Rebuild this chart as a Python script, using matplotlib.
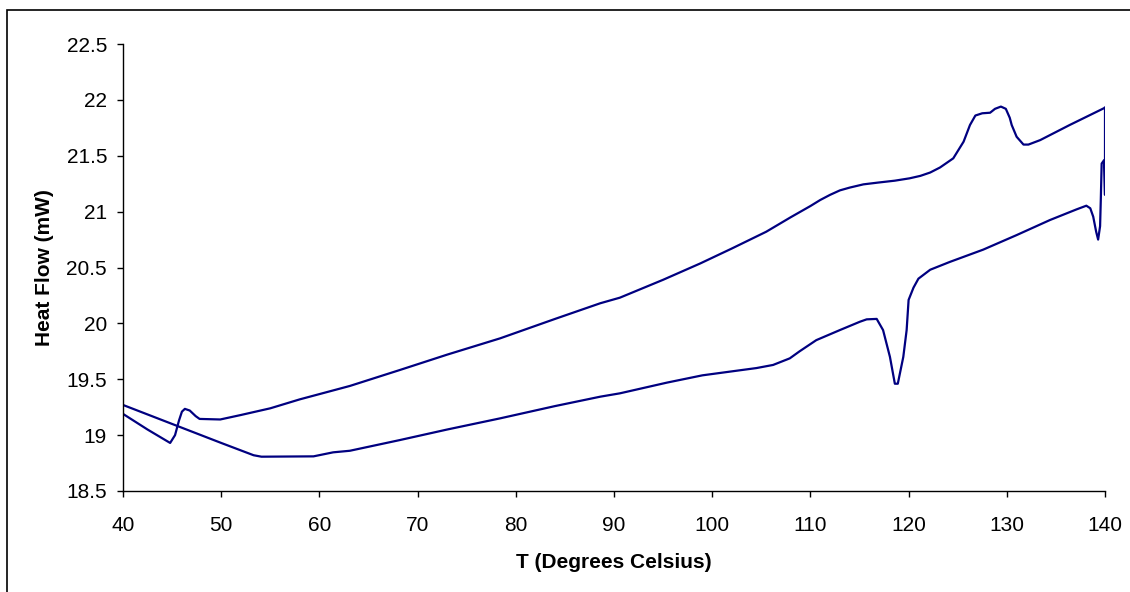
import matplotlib
matplotlib.use("Agg")
import matplotlib.pyplot as plt
from matplotlib.patches import Rectangle
from matplotlib.ticker import FuncFormatter, MultipleLocator

# heating run (T in deg C, heat flow in mW)
heat_T = [40.0, 42.5, 44.8, 45.3, 45.7, 46.0, 46.3, 46.8, 47.4, 47.8, 49.9, 52.0,
          55.0, 58.0, 63.1, 68.2, 73.0, 78.4, 84.0, 88.6, 90.6, 95.0, 98.8, 102.0,
          105.5, 108.0, 110.0, 111.0, 112.0, 113.0, 114.0, 115.4, 116.9, 118.6, 120.1, 121.2,
          122.2, 123.2, 124.55, 125.6, 126.25, 126.8, 127.5, 128.3, 128.8, 129.4,
          129.9, 130.3, 130.5, 131.0, 131.7, 132.2, 133.4, 136.4, 140.0]
heat_Q = [19.19, 19.05, 18.93, 19.0, 19.13, 19.21, 19.235, 19.22, 19.17, 19.145, 19.14, 19.18,
          19.24, 19.32, 19.44, 19.583, 19.72, 19.866, 20.04, 20.18, 20.23, 20.39, 20.537, 20.67,
          20.82, 20.95, 21.05, 21.104, 21.15, 21.19, 21.215, 21.244, 21.26, 21.277, 21.298, 21.32,
          21.35, 21.395, 21.477, 21.626, 21.775, 21.86, 21.88, 21.885, 21.92, 21.94,
          21.92, 21.84, 21.775, 21.67, 21.60, 21.60, 21.64, 21.775, 21.93]

# cooling run, starts at the end of the heating run
cool_T = [140.0, 140.0, 139.9, 139.66, 139.57, 139.5, 139.3, 139.1, 138.8, 138.5, 138.1,
          137.1, 134.4, 131.0, 127.6, 124.2, 122.2, 121.0, 120.5, 120.0, 119.8, 119.46,
          118.9, 118.6, 118.1, 117.4, 116.75, 115.73, 115.05, 113.0, 110.6, 108.9, 107.9,
          106.2, 104.5, 102.8, 99.0, 95.4, 90.6, 88.6, 84.0, 78.4, 73.0, 68.2, 63.1, 61.4,
          59.4, 54.1, 53.3, 50.0, 45.0, 40.0]
cool_Q = [21.93, 21.15, 21.46, 21.43, 21.10, 20.87, 20.75, 20.82, 20.955, 21.03, 21.053,
          21.02, 20.925, 20.79, 20.66, 20.55, 20.48, 20.40, 20.32, 20.21, 19.94, 19.70,
          19.46, 19.46, 19.70, 19.94, 20.04, 20.036, 20.015, 19.94, 19.85, 19.75, 19.687,
          19.628, 19.60, 19.58, 19.535, 19.47, 19.374, 19.344, 19.26, 19.15, 19.05, 18.956, 18.86, 18.846,
          18.81, 18.807, 18.82, 18.93, 19.10, 19.27]

plt.rcParams['font.family'] = ['Liberation Sans', 'DejaVu Sans']

fig = plt.figure(figsize=(11.3, 5.92), dpi=100)
ax = fig.add_axes([123 / 1130, 1 - 491 / 592, (1105 - 123) / 1130, (491 - 44) / 592])

line_color = '#000080'
ax.plot(heat_T, heat_Q, color=line_color, lw=1.6)
ax.plot(cool_T, cool_Q, color=line_color, lw=1.6)

ax.set_xlim(40, 140)
ax.set_ylim(18.5, 22.5)
ax.xaxis.set_major_locator(MultipleLocator(10))
ax.yaxis.set_major_locator(MultipleLocator(0.5))
ax.yaxis.set_major_formatter(FuncFormatter(lambda v, p: '%g' % v))

for s in ['top', 'right']:
    ax.spines[s].set_visible(False)
for s in ['left', 'bottom']:
    ax.spines[s].set_linewidth(1.0)
    ax.spines[s].set_color('black')

ax.tick_params(axis='x', direction='out', length=4, width=1, labelsize=15, pad=14)
ax.tick_params(axis='y', direction='out', length=4.5, width=1, labelsize=15, pad=7)

ax.set_xlabel('T (Degrees Celsius)', fontsize=15, fontweight='bold')
ax.set_ylabel('Heat Flow (mW)', fontsize=15, fontweight='bold')
ax.xaxis.set_label_coords(0.5, -(563 - 491) / 447)
ax.yaxis.set_label_coords(-(123 - 45) / 982, 0.5)
ax.xaxis.label.set_va('center')
ax.yaxis.label.set_va('center')

# outer chart border (only left and top edges fall inside the picture)
fig.patches.append(Rectangle((7 / 1130, -0.05), 1.1, 1 - 10 / 592 + 0.05,
                             transform=fig.transFigure, fill=False, edgecolor='black', lw=1.2))

fig.savefig('out.png', dpi=100)
